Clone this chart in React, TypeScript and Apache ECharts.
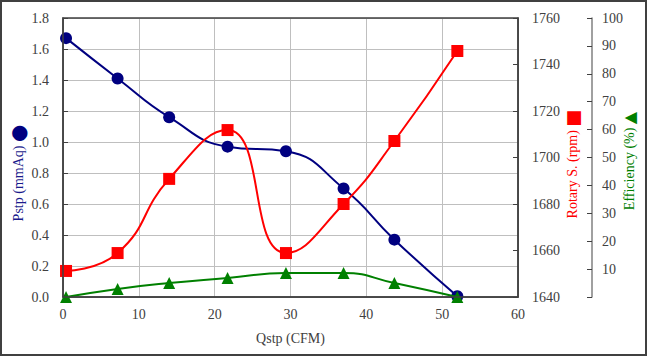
import React, { useEffect, useRef } from "react";
import * as echarts from "echarts";

const qstp = [0.4, 7.2, 14.0, 21.7, 29.4, 37.0, 43.7, 52.0];
const pstp = [1.67, 1.41, 1.16, 0.97, 0.94, 0.7, 0.37, 0.005];
const rotary = [1651.2, 1658.9, 1690.8, 1711.8, 1658.9, 1680.0, 1707.1, 1745.8];
const efficiency = [0, 2.9, 5.0, 6.8, 8.6, 8.6, 5.0, 0];

const FONT = "Liberation Serif";
const LABEL = "#404040";

export default function App() {
  const ref = useRef<HTMLDivElement>(null);
  useEffect(() => {
    const chart = echarts.init(ref.current!, null, { renderer: "svg" });
    const pair = (ys: number[]) => qstp.map((x, i) => [x, ys[i]]);
    chart.setOption({
      animation: false,
      backgroundColor: "#ffffff",
      grid: { left: 63, top: 18, right: 129, bottom: 59 },
      xAxis: {
        type: "value",
        min: 0,
        max: 60,
        interval: 10,
        name: "Qstp (CFM)",
        nameLocation: "middle",
        nameGap: 34,
        nameTextStyle: { fontFamily: FONT, fontSize: 14, color: LABEL },
        axisLine: { show: true, lineStyle: { color: "#404040", width: 1.5 } },
        axisTick: { show: false },
        axisLabel: { fontFamily: FONT, fontSize: 14, color: LABEL, margin: 10, formatter: (v: number) => String(v) },
        splitLine: { show: true, lineStyle: { color: "#bfbfbf", width: 1 } },
      },
      yAxis: [
        {
          type: "value",
          min: 0,
          max: 1.8,
          interval: 0.2,
          position: "left",
          axisLine: { show: true, lineStyle: { color: "#404040", width: 1.5 } },
          axisTick: { show: true, inside: true, length: 5, lineStyle: { color: "#404040" } },
          axisLabel: {
            fontFamily: FONT,
            fontSize: 14,
            color: LABEL,
            margin: 14,
            formatter: (v: number) => v.toFixed(1),
          },
          splitLine: { show: true, lineStyle: { color: "#bfbfbf", width: 1 } },
        },
        {
          type: "value",
          min: 1640,
          max: 1760,
          interval: 20,
          position: "right",
          axisLine: { show: true, lineStyle: { color: "#404040", width: 1.5 } },
          axisTick: { show: true, inside: true, length: 5, lineStyle: { color: "#404040" } },
          axisLabel: { fontFamily: FONT, fontSize: 14, color: LABEL, margin: 14, formatter: (v: number) => String(v) },
          splitLine: { show: false },
        },
        {
          type: "value",
          min: 0,
          max: 100,
          interval: 10,
          position: "right",
          offset: 74,
          axisLine: { show: true, lineStyle: { color: "#808080", width: 1.5 } },
          axisTick: { show: true, inside: true, length: 5, lineStyle: { color: "#404040" } },
          axisLabel: {
            fontFamily: FONT,
            fontSize: 14,
            color: LABEL,
            margin: 10,
            formatter: (v: number) => (v === 0 ? "" : String(v)),
          },
          splitLine: { show: false },
        },
      ],
      series: [
        {
          type: "line",
          yAxisIndex: 0,
          data: pair(pstp),
          smooth: 0.5,
          symbol: "circle",
          symbolSize: 12,
          lineStyle: { color: "#000080", width: 2 },
          itemStyle: { color: "#000080" },
          z: 3,
        },
        {
          type: "line",
          yAxisIndex: 1,
          data: pair(rotary),
          smooth: 0.5,
          symbol: "rect",
          symbolSize: 12,
          lineStyle: { color: "#ff0000", width: 2 },
          itemStyle: { color: "#ff0000" },
          z: 4,
        },
        {
          type: "line",
          yAxisIndex: 2,
          data: pair(efficiency),
          smooth: 0.5,
          symbol: "triangle",
          symbolSize: 12,
          lineStyle: { color: "#008000", width: 2 },
          itemStyle: { color: "#008000" },
          z: 5,
        },
      ],
      graphic: [
        {
          type: "rect",
          shape: { x: 1, y: 1, width: 645, height: 354 },
          style: { fill: "none", stroke: "#404040", lineWidth: 2 },
          silent: true,
        },
        {
          type: "rect",
          shape: { x: 63, y: 18, width: 455, height: 279 },
          style: { fill: "none", stroke: "#404040", lineWidth: 1.5 },
          silent: true,
          z: 10,
        },
        {
          type: "text",
          x: 18,
          y: 173,
          rotation: Math.PI / 2,
          style: {
            text: "{t|Pstp (mmAq) }{m|●}",
            align: "center",
            verticalAlign: "middle",
            rich: {
              t: { fontFamily: FONT, fontSize: 14, fill: "#1a1a8c" },
              m: { fontFamily: "DejaVu Sans", fontSize: 20, fill: "#000080" },
            },
          },
        },
        {
          type: "text",
          x: 572,
          y: 164,
          rotation: Math.PI / 2,
          style: {
            text: "{t|Rotary S. (rpm) }{m|■}",
            align: "center",
            verticalAlign: "middle",
            rich: {
              t: { fontFamily: FONT, fontSize: 14, fill: "#ff0000" },
              m: { fontFamily: "DejaVu Sans", fontSize: 18, fill: "#ff0000" },
            },
          },
        },
        {
          type: "text",
          x: 629,
          y: 161,
          rotation: Math.PI / 2,
          style: {
            text: "{t|Efficiency (%) }{m|▲}",
            align: "center",
            verticalAlign: "middle",
            rich: {
              t: { fontFamily: FONT, fontSize: 14, fill: "#008000" },
              m: { fontFamily: "DejaVu Sans", fontSize: 16, fill: "#008000" },
            },
          },
        },
      ],
    });
    return () => chart.dispose();
  }, []);
  return (
    <div
      ref={ref}
      style={{ position: "fixed", left: 0, top: 0, width: 647, height: 356 }}
    />
  );
}
